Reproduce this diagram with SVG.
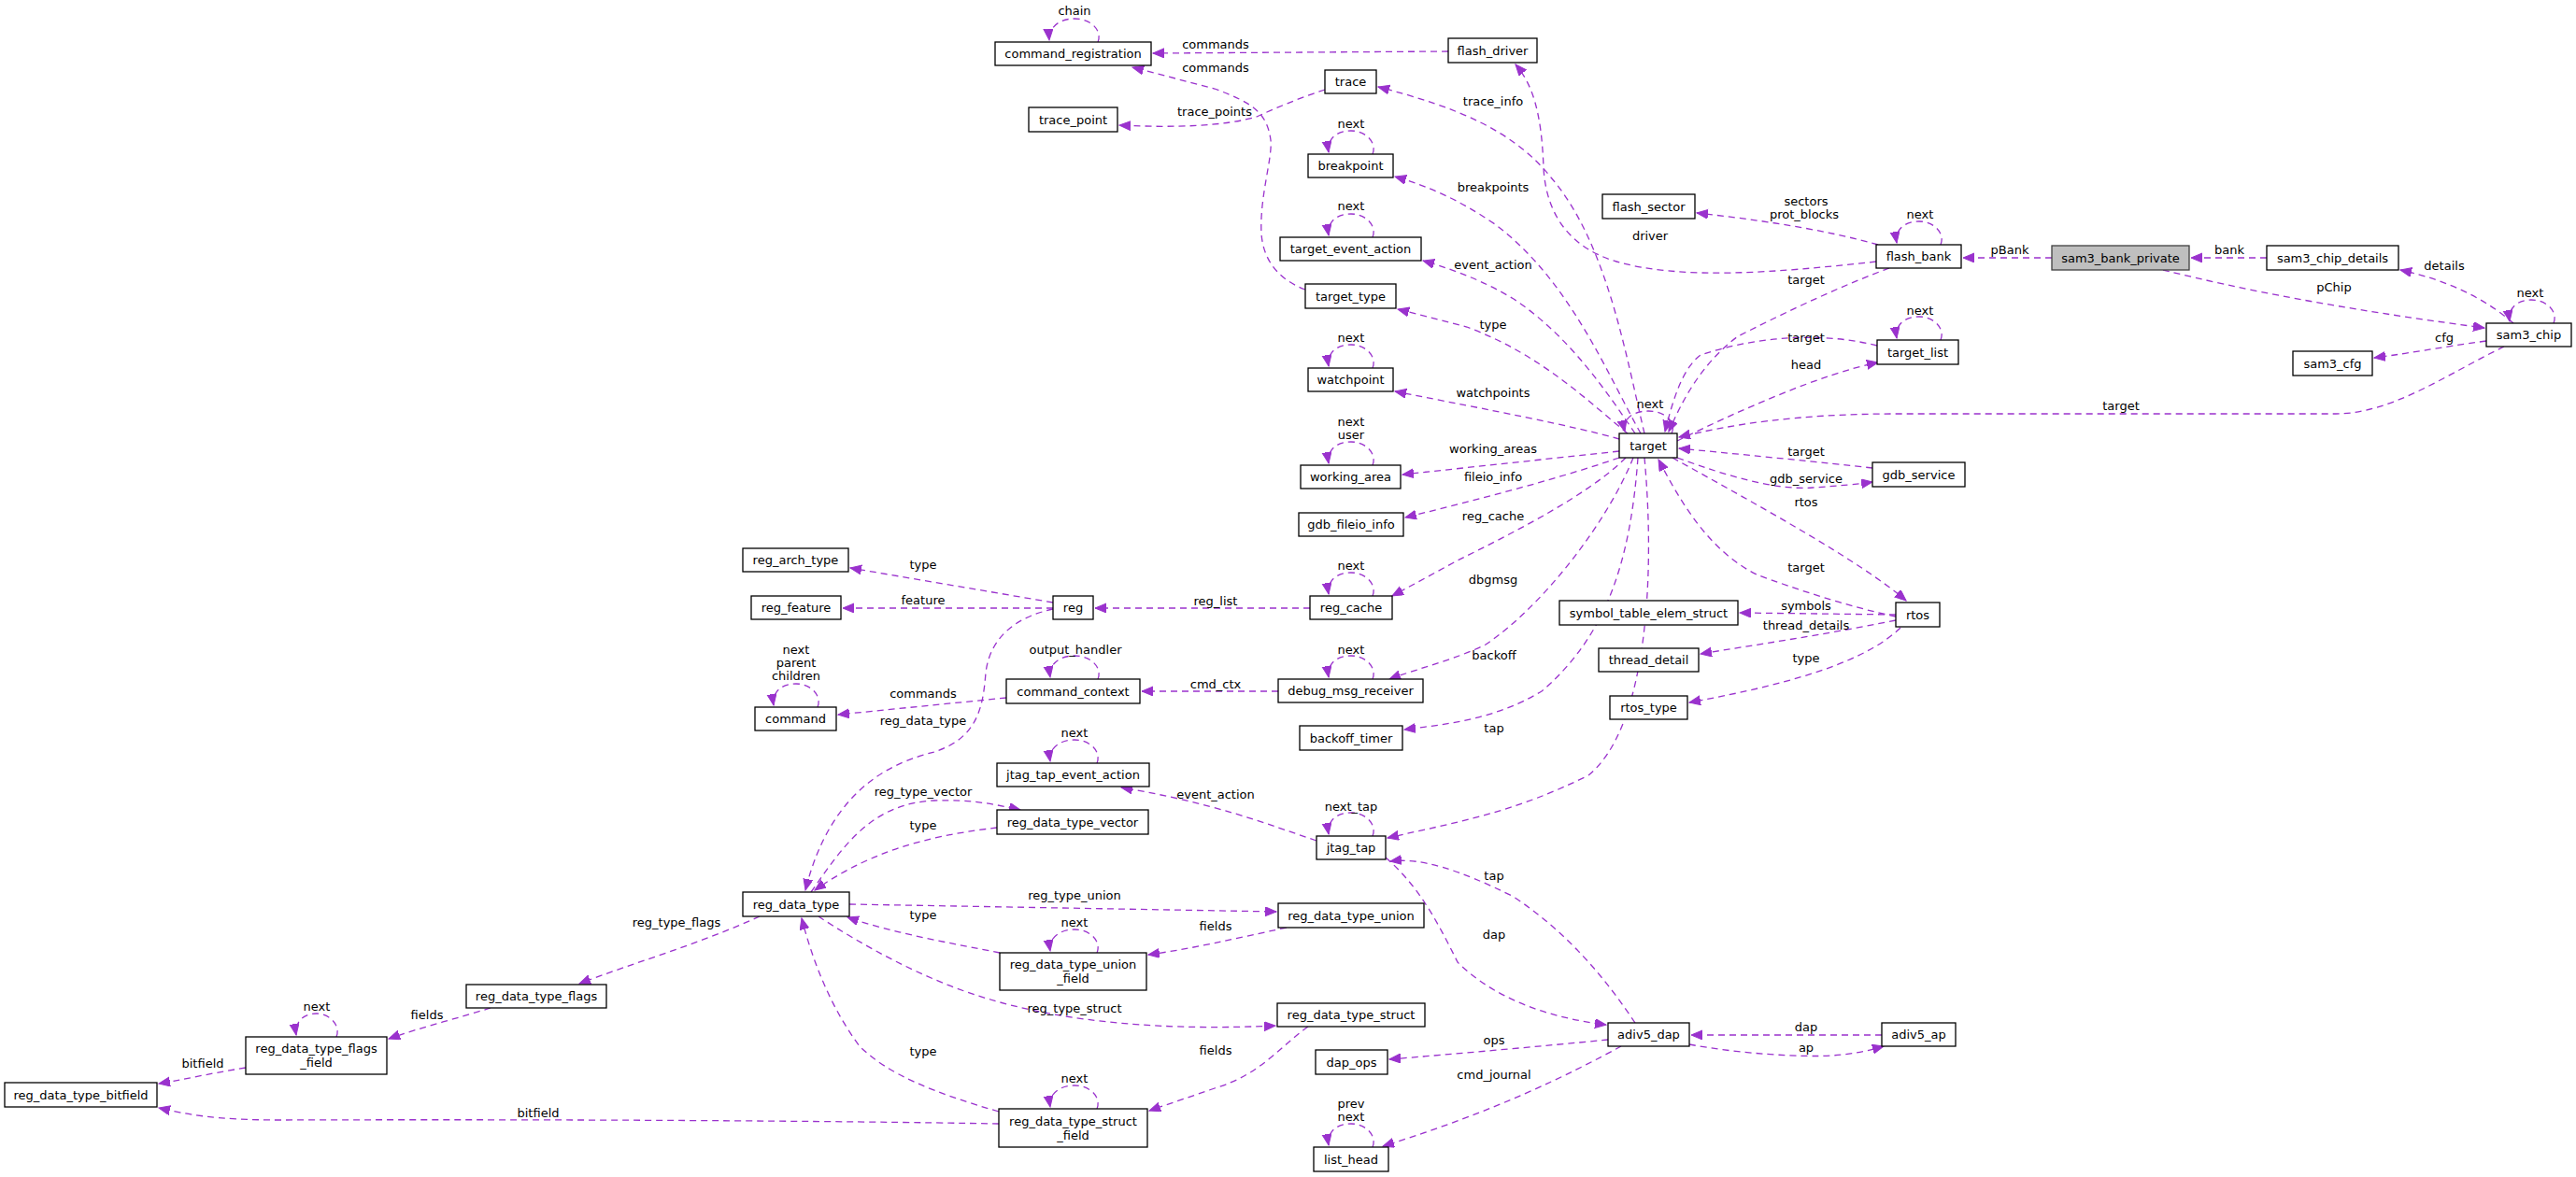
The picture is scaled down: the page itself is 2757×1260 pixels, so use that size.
<svg xmlns="http://www.w3.org/2000/svg" width="2757" height="1260" viewBox="0 0 2757 1260">
<style>
rect{fill:#fff;stroke:#000;stroke-width:1.3}
rect.sel{fill:#bfbfbf;stroke:#404040}
text{font-family:"DejaVu Sans",sans-serif;font-size:13px;fill:#000;text-anchor:middle}
#edges path{fill:none;stroke:#9a32cd;stroke-width:1.3;stroke-dasharray:7,5;marker-end:url(#ah)}
</style>
<defs>
<marker id="ah" markerUnits="userSpaceOnUse" markerWidth="14" markerHeight="12" refX="12" refY="5" orient="auto"><path d="M0,0 L12,5 L0,10 Z" fill="#9a32cd" stroke="#9a32cd"/></marker>
</defs>
<rect x="0" y="0" width="2757" height="1260" style="fill:#fff;stroke:none"/>
<g id="edges">
<path d="M1175,45 C1180,33 1168,20 1150,20 C1132,20 1122,31 1123,43"/>
<path d="M1550,55 L1234,57"/>
<path d="M1397,310 C1370,300 1352,280 1350,250 C1348,210 1362,170 1360,150 C1356,120 1340,110 1300,95 L1212,72"/>
<path d="M1418,96 C1390,105 1360,118 1345,125 C1310,135 1260,137 1198,134"/>
<path d="M1760,464 C1740,380 1720,260 1660,190 C1620,140 1560,115 1475,93"/>
<path d="M2008,280 C1900,292 1800,300 1730,280 C1680,265 1655,230 1652,180 C1650,120 1640,90 1622,69"/>
<path d="M1756,464 C1720,400 1680,300 1600,240 C1560,213 1530,200 1493,189"/>
<path d="M1750,464 C1720,420 1680,360 1620,320 C1590,302 1560,290 1523,279"/>
<path d="M1742,464 C1700,430 1650,380 1570,350 L1496,331"/>
<path d="M1733,470 C1680,455 1600,440 1493,419"/>
<path d="M1733,483 L1501,508"/>
<path d="M1733,490 C1660,515 1580,535 1504,554"/>
<path d="M1740,490 C1700,530 1620,570 1560,600 L1490,638"/>
<path d="M1748,490 C1720,560 1650,650 1590,690 C1560,705 1520,715 1487,727"/>
<path d="M1753,490 C1745,600 1720,680 1650,740 C1600,770 1550,775 1503,781"/>
<path d="M1760,490 C1772,620 1762,780 1700,830 C1620,870 1560,880 1485,897"/>
<path d="M1789,464 C1795,452 1782,440 1764,440 C1746,440 1736,450 1739,462"/>
<path d="M2009,370 C1950,355 1880,360 1820,380 C1800,395 1790,430 1782,462"/>
<path d="M1795,472 C1860,440 1950,400 2010,388"/>
<path d="M2022,287 C1960,310 1900,340 1860,360 C1820,390 1800,430 1786,462"/>
<path d="M2680,371 C2620,400 2560,443 2500,443 L2030,443 C1920,443 1850,455 1797,468"/>
<path d="M2004,501 C1950,495 1880,488 1797,480"/>
<path d="M1795,490 C1850,510 1900,525 1940,522 C1970,520 1990,518 2004,516"/>
<path d="M1790,490 C1880,540 1990,600 2040,643"/>
<path d="M2029,660 C1980,650 1920,630 1880,615 C1830,590 1800,540 1775,492"/>
<path d="M2029,658 L1862,656"/>
<path d="M2029,664 C1950,680 1880,690 1820,700"/>
<path d="M2034,672 C2000,705 1930,730 1808,752"/>
<path d="M2010,262 C1950,245 1880,235 1816,228"/>
<path d="M2077,262 C2082,250 2070,237 2054,237 C2036,237 2028,248 2030,260"/>
<path d="M2196,276 L2101,276"/>
<path d="M2426,276 L2345,276"/>
<path d="M2315,289 C2400,310 2500,330 2659,351"/>
<path d="M2690,346 C2660,320 2620,300 2569,289"/>
<path d="M2733,346 C2738,334 2726,321 2709,321 C2692,321 2684,332 2686,344"/>
<path d="M2661,365 C2610,372 2580,378 2541,383"/>
<path d="M2077,364 C2082,352 2070,339 2054,339 C2036,339 2028,350 2030,362"/>
<path d="M1402,651 L1172,651"/>
<path d="M1469,638 C1474,626 1462,613 1446,613 C1428,613 1420,624 1422,636"/>
<path d="M1127,645 L910,608"/>
<path d="M1127,651 L902,651"/>
<path d="M1127,652 C1090,660 1060,680 1055,720 C1052,760 1045,790 1000,805 C960,815 890,840 862,953"/>
<path d="M1077,747 L897,765"/>
<path d="M1175,727 C1180,715 1168,702 1150,702 C1132,702 1122,713 1124,725"/>
<path d="M1368,740 L1222,740"/>
<path d="M1469,727 C1474,715 1462,702 1446,702 C1428,702 1420,713 1422,725"/>
<path d="M1409,900 C1350,880 1300,860 1200,843"/>
<path d="M1469,895 C1474,883 1462,870 1446,870 C1428,870 1420,881 1422,893"/>
<path d="M1174,817 C1179,805 1167,792 1150,792 C1132,792 1122,803 1124,815"/>
<path d="M868,955 C900,910 930,860 1000,857 C1040,856 1060,860 1092,867"/>
<path d="M1067,886 C1010,893 940,905 872,953"/>
<path d="M909,968 L1366,976"/>
<path d="M1070,1020 C1020,1010 960,1000 907,982"/>
<path d="M1377,993 C1320,1005 1280,1015 1229,1022"/>
<path d="M1174,1020 C1179,1008 1167,995 1150,995 C1132,995 1122,1006 1124,1018"/>
<path d="M876,981 C920,1010 990,1050 1060,1070 C1120,1088 1220,1105 1365,1098"/>
<path d="M1069,1190 C1000,1170 950,1150 920,1120 C890,1080 870,1030 858,983"/>
<path d="M1400,1099 C1370,1120 1350,1150 1300,1165 L1230,1189"/>
<path d="M1174,1187 C1179,1175 1167,1162 1150,1162 C1132,1162 1122,1173 1124,1185"/>
<path d="M1069,1203 C900,1200 600,1198 300,1199 C230,1199 200,1193 170,1186"/>
<path d="M813,981 C750,1010 680,1030 620,1053"/>
<path d="M525,1079 C490,1090 450,1100 416,1112"/>
<path d="M360,1110 C365,1098 353,1085 339,1085 C323,1085 315,1096 317,1108"/>
<path d="M263,1143 C220,1150 200,1155 170,1160"/>
<path d="M1750,1095 C1720,1050 1680,1000 1620,960 C1560,930 1520,918 1488,922"/>
<path d="M1483,918 C1520,950 1540,990 1560,1030 C1600,1070 1660,1090 1719,1097"/>
<path d="M1721,1113 C1650,1120 1560,1128 1487,1134"/>
<path d="M1735,1120 C1680,1150 1600,1190 1480,1227"/>
<path d="M1469,1228 C1474,1216 1462,1203 1446,1203 C1428,1203 1420,1214 1422,1226"/>
<path d="M2014,1108 L1810,1108"/>
<path d="M1808,1118 C1860,1128 1930,1132 1960,1130 C1990,1128 2005,1123 2016,1120"/>
<path d="M1469,498 C1474,486 1462,473 1446,473 C1428,473 1420,484 1422,496"/>
<path d="M1469,394 C1474,382 1462,369 1446,369 C1428,369 1420,380 1422,392"/>
<path d="M1469,165 C1474,153 1462,140 1446,140 C1428,140 1420,151 1422,163"/>
<path d="M1469,254 C1474,242 1462,229 1446,229 C1428,229 1420,240 1422,252"/>
<path d="M875,757 C880,745 868,732 852,732 C834,732 826,743 828,755"/>
<g id="edge-labels">
<text x="1150" y="16">chain</text>
<text x="1301" y="52">commands</text>
<text x="1301" y="77">commands</text>
<text x="1300" y="124">trace_points</text>
<text x="1598" y="113">trace_info</text>
<text x="1446" y="137">next</text>
<text x="1598" y="205">breakpoints</text>
<text x="1446" y="225">next</text>
<text x="1598" y="288">event_action</text>
<text x="1598" y="352">type</text>
<text x="1446" y="366">next</text>
<text x="1598" y="425">watchpoints</text>
<text x="1446" y="456">next</text>
<text x="1446" y="470">user</text>
<text x="1598" y="485">working_areas</text>
<text x="1598" y="515">fileio_info</text>
<text x="1598" y="557">reg_cache</text>
<text x="1446" y="610">next</text>
<text x="1598" y="625">dbgmsg</text>
<text x="1301" y="648">reg_list</text>
<text x="988" y="609">type</text>
<text x="988" y="647">feature</text>
<text x="852" y="700">next</text>
<text x="852" y="714">parent</text>
<text x="852" y="728">children</text>
<text x="1151" y="700">output_handler</text>
<text x="988" y="747">commands</text>
<text x="1301" y="737">cmd_ctx</text>
<text x="988" y="776">reg_data_type</text>
<text x="1150" y="789">next</text>
<text x="1301" y="855">event_action</text>
<text x="988" y="852">reg_type_vector</text>
<text x="988" y="888">type</text>
<text x="1150" y="963">reg_type_union</text>
<text x="988" y="984">type</text>
<text x="1150" y="992">next</text>
<text x="1301" y="996">fields</text>
<text x="1150" y="1084">reg_type_struct</text>
<text x="988" y="1130">type</text>
<text x="1301" y="1129">fields</text>
<text x="1150" y="1159">next</text>
<text x="724" y="992">reg_type_flags</text>
<text x="457" y="1091">fields</text>
<text x="339" y="1082">next</text>
<text x="217" y="1143">bitfield</text>
<text x="576" y="1196">bitfield</text>
<text x="1446" y="700">next</text>
<text x="1599" y="706">backoff</text>
<text x="1599" y="784">tap</text>
<text x="1446" y="868">next_tap</text>
<text x="1599" y="942">tap</text>
<text x="1599" y="1005">dap</text>
<text x="1599" y="1118">ops</text>
<text x="1599" y="1155">cmd_journal</text>
<text x="1446" y="1186">prev</text>
<text x="1446" y="1200">next</text>
<text x="1933" y="653">symbols</text>
<text x="1933" y="674">thread_details</text>
<text x="1933" y="709">type</text>
<text x="1933" y="1104">dap</text>
<text x="1933" y="1126">ap</text>
<text x="1933" y="220">sectors</text>
<text x="1931" y="234">prot_blocks</text>
<text x="2055" y="234">next</text>
<text x="1766" y="257">driver</text>
<text x="2151" y="272">pBank</text>
<text x="1933" y="304">target</text>
<text x="2055" y="337">next</text>
<text x="1933" y="366">target</text>
<text x="1933" y="395">head</text>
<text x="1766" y="437">next</text>
<text x="2270" y="439">target</text>
<text x="1933" y="488">target</text>
<text x="1933" y="517">gdb_service</text>
<text x="1933" y="542">rtos</text>
<text x="1933" y="612">target</text>
<text x="2386" y="272">bank</text>
<text x="2616" y="289">details</text>
<text x="2498" y="312">pChip</text>
<text x="2708" y="318">next</text>
<text x="2616" y="366">cfg</text>
</g>
</g>
<g id="n-command_registration"><rect x="1065" y="45" width="167" height="25"/><text x="1148.5" y="62">command_registration</text></g>
<g id="n-flash_driver"><rect x="1550" y="41" width="95" height="26"/><text x="1597.5" y="58.5">flash_driver</text></g>
<g id="n-trace"><rect x="1418" y="75" width="55" height="25"/><text x="1445.5" y="92">trace</text></g>
<g id="n-trace_point"><rect x="1101" y="115" width="95" height="26"/><text x="1148.5" y="132.5">trace_point</text></g>
<g id="n-breakpoint"><rect x="1400" y="165" width="91" height="25"/><text x="1445.5" y="182">breakpoint</text></g>
<g id="n-target_event_action"><rect x="1370" y="254" width="151" height="25"/><text x="1445.5" y="271">target_event_action</text></g>
<g id="n-target_type"><rect x="1397" y="304" width="97" height="26"/><text x="1445.5" y="321.5">target_type</text></g>
<g id="n-watchpoint"><rect x="1400" y="394" width="91" height="25"/><text x="1445.5" y="411">watchpoint</text></g>
<g id="n-working_area"><rect x="1392" y="498" width="107" height="25"/><text x="1445.5" y="515">working_area</text></g>
<g id="n-gdb_fileio_info"><rect x="1390" y="549" width="112" height="25"/><text x="1446" y="566">gdb_fileio_info</text></g>
<g id="n-reg_cache"><rect x="1402" y="638" width="88" height="25"/><text x="1446" y="655">reg_cache</text></g>
<g id="n-reg"><rect x="1127" y="638" width="43" height="25"/><text x="1148.5" y="655">reg</text></g>
<g id="n-reg_arch_type"><rect x="795" y="587" width="113" height="25"/><text x="851.5" y="604">reg_arch_type</text></g>
<g id="n-reg_feature"><rect x="804" y="638" width="96" height="25"/><text x="852" y="655">reg_feature</text></g>
<g id="n-command"><rect x="808" y="757" width="87" height="25"/><text x="851.5" y="774">command</text></g>
<g id="n-command_context"><rect x="1077" y="727" width="143" height="26"/><text x="1148.5" y="744.5">command_context</text></g>
<g id="n-debug_msg_receiver"><rect x="1368" y="727" width="155" height="25"/><text x="1445.5" y="744">debug_msg_receiver</text></g>
<g id="n-backoff_timer"><rect x="1391" y="777" width="110" height="26"/><text x="1446" y="794.5">backoff_timer</text></g>
<g id="n-jtag_tap_event_action"><rect x="1067" y="817" width="163" height="25"/><text x="1148.5" y="834">jtag_tap_event_action</text></g>
<g id="n-reg_data_type_vector"><rect x="1067" y="867" width="162" height="26"/><text x="1148" y="884.5">reg_data_type_vector</text></g>
<g id="n-jtag_tap"><rect x="1409" y="895" width="74" height="25"/><text x="1446" y="912">jtag_tap</text></g>
<g id="n-reg_data_type"><rect x="795" y="955" width="114" height="26"/><text x="852" y="972.5">reg_data_type</text></g>
<g id="n-reg_data_type_union"><rect x="1368" y="967" width="156" height="26"/><text x="1446" y="984.5">reg_data_type_union</text></g>
<g id="n-reg_data_type_union_field"><rect x="1070" y="1020" width="157" height="40"/><text x="1148.5" y="1037">reg_data_type_union</text><text x="1148.5" y="1052">_field</text></g>
<g id="n-reg_data_type_struct"><rect x="1367" y="1074" width="158" height="25"/><text x="1446" y="1091">reg_data_type_struct</text></g>
<g id="n-reg_data_type_struct_field"><rect x="1069" y="1187" width="159" height="41"/><text x="1148.5" y="1204.5">reg_data_type_struct</text><text x="1148.5" y="1219.5">_field</text></g>
<g id="n-reg_data_type_flags"><rect x="499" y="1054" width="150" height="25"/><text x="574" y="1071">reg_data_type_flags</text></g>
<g id="n-reg_data_type_flags_field"><rect x="263" y="1110" width="151" height="40"/><text x="338.5" y="1127">reg_data_type_flags</text><text x="338.5" y="1142">_field</text></g>
<g id="n-reg_data_type_bitfield"><rect x="5" y="1159" width="163" height="26"/><text x="86.5" y="1176.5">reg_data_type_bitfield</text></g>
<g id="n-adiv5_dap"><rect x="1721" y="1095" width="87" height="25"/><text x="1764.5" y="1112">adiv5_dap</text></g>
<g id="n-dap_ops"><rect x="1408" y="1124" width="77" height="26"/><text x="1446.5" y="1141.5">dap_ops</text></g>
<g id="n-list_head"><rect x="1406" y="1228" width="80" height="26"/><text x="1446" y="1245.5">list_head</text></g>
<g id="n-adiv5_ap"><rect x="2014" y="1095" width="79" height="25"/><text x="2053.5" y="1112">adiv5_ap</text></g>
<g id="n-target"><rect x="1733" y="464" width="62" height="26"/><text x="1764" y="481.5">target</text></g>
<g id="n-flash_sector"><rect x="1715" y="208" width="99" height="26"/><text x="1764.5" y="225.5">flash_sector</text></g>
<g id="n-flash_bank"><rect x="2008" y="262" width="91" height="25"/><text x="2053.5" y="279">flash_bank</text></g>
<g id="n-sam3_bank_private"><rect class="sel" x="2196" y="263" width="147" height="26"/><text x="2269.5" y="280.5">sam3_bank_private</text></g>
<g id="n-target_list"><rect x="2009" y="364" width="87" height="26"/><text x="2052.5" y="381.5">target_list</text></g>
<g id="n-gdb_service"><rect x="2004" y="495" width="99" height="26"/><text x="2053.5" y="512.5">gdb_service</text></g>
<g id="n-rtos"><rect x="2029" y="645" width="47" height="26"/><text x="2052.5" y="662.5">rtos</text></g>
<g id="n-symbol_table_elem_struct"><rect x="1669" y="643" width="191" height="26"/><text x="1764.5" y="660.5">symbol_table_elem_struct</text></g>
<g id="n-thread_detail"><rect x="1711" y="694" width="107" height="25"/><text x="1764.5" y="711">thread_detail</text></g>
<g id="n-rtos_type"><rect x="1723" y="745" width="83" height="25"/><text x="1764.5" y="762">rtos_type</text></g>
<g id="n-sam3_chip_details"><rect x="2426" y="263" width="141" height="26"/><text x="2496.5" y="280.5">sam3_chip_details</text></g>
<g id="n-sam3_chip"><rect x="2661" y="346" width="91" height="25"/><text x="2706.5" y="363">sam3_chip</text></g>
<g id="n-sam3_cfg"><rect x="2454" y="376" width="85" height="26"/><text x="2496.5" y="393.5">sam3_cfg</text></g>
</svg>
